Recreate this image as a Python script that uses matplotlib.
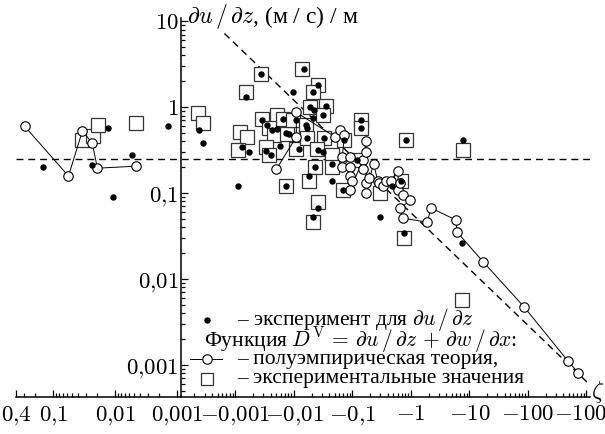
import numpy as np
import matplotlib.pyplot as plt
from matplotlib.ticker import FixedLocator, NullFormatter
from matplotlib.transforms import blended_transform_factory

plt.rcParams["font.family"] = ["Liberation Serif", "DejaVu Serif"]
plt.rcParams["mathtext.fontset"] = "cm"

# stable side, zeta > 0
pos_dot_z = [0.145, 0.024, 0.013, 0.011, 0.0053, 0.0014]
pos_dot_v = [0.20, 0.21, 0.58, 0.090, 0.28, 0.60]
pos_sq_z = [0.034, 0.023, 0.019, 0.0046]
pos_sq_v = [0.42, 0.46, 0.62, 0.65]
pos_theory_z = [0.29, 0.057, 0.034, 0.0235, 0.0195, 0.0046]
pos_theory_v = [0.60, 0.158, 0.53, 0.38, 0.195, 0.206]

# unstable side, zeta < 0: du/dz measurements
neg_dot_z = [-2.4e-4, -2.8e-4, -1.1e-3, -1.3e-3, -1.7e-3, -1.5e-3, -2.7e-3, -2.9e-3,
             -3.5e-3, -4.3e-3, -5.2e-3, -6.4e-3, -7.4e-3, -8.1e-3, -5.9e-3, -3.3e-3,
             -4.0e-3, -7.2e-3, -9.8e-3, -0.011, -0.012, -0.015, -0.026, -0.021,
             -0.035, -0.019, -0.016, -0.021, -0.022, -0.031, -0.017, -0.017, -0.033,
             -0.026, -0.031, -0.023, -0.045, -0.018, -0.044, -0.073, -0.14, -0.14,
             -0.81, -7.9, -0.12, -0.070, -0.69, -0.48, -0.026, -0.021, -0.30, -0.77, -7.6]
neg_dot_v = [0.54, 0.38, 0.12, 0.34, 0.30, 1.3, 2.4, 0.71, 0.62, 0.54, 0.55, 0.72, 0.50,
             0.49, 0.35, 0.31, 0.28, 0.12, 1.5, 0.71, 0.33, 2.8, 1.8, 1.5, 1.03, 1.0,
             0.62, 0.74, 0.92, 0.81, 0.58, 0.44, 0.44, 0.32, 0.30, 0.20, 0.22, 0.16,
             0.14, 0.41, 0.71, 0.57, 0.42, 0.42, 0.24, 0.11, 0.14, 0.12, 0.067, 0.053,
             0.053, 0.034, 0.026]

# D^V experimental values
neg_sq_z = [-2.3e-4, -2.8e-4, -1.2e-3, -1.6e-3, -1.1e-3, -1.5e-3, -2.7e-3, -2.9e-3,
            -5.2e-3, -6.4e-3, -3.7e-3, -4.5e-3, -7.7e-3, -9.8e-3, -3.3e-3, -3.7e-3,
            -7.2e-3, -0.011, -0.014, -0.026, -0.021, -0.035, -0.019, -0.016, -0.031,
            -0.017, -0.033, -0.025, -0.045, -0.023, -0.045, -0.018, -0.073, -0.14,
            -0.14, -0.81, -7.9, -0.12, -0.070, -0.69, -0.30, -0.026, -0.021, -0.77, -7.6]
neg_sq_v = [0.85, 0.65, 0.51, 0.45, 0.32, 1.5, 2.4, 0.72, 0.81, 0.72, 0.58, 0.47, 0.49,
            0.71, 0.34, 0.28, 0.12, 0.33, 2.8, 1.8, 1.5, 1.03, 1.0, 0.62, 0.81, 0.44,
            0.44, 0.33, 0.28, 0.20, 0.20, 0.14, 0.41, 0.71, 0.57, 0.42, 0.32, 0.24,
            0.11, 0.14, 0.10, 0.079, 0.046, 0.030, 0.0057]

# semi-empirical theory for D^V
neg_theory_z = [-5.0e-3, -0.011, -0.011, -0.051, -0.062, -0.073, -0.067, -0.067, -0.092,
                -0.092, -0.092, -0.10, -0.092, -0.15, -0.15, -0.17, -0.17, -0.17, -0.19,
                -0.17, -0.23, -0.27, -0.28, -0.34, -0.37, -0.45, -0.61, -0.59, -0.66,
                -0.74, -0.98, -0.66, -0.72, -1.9, -2.2, -5.8, -6.2, -17, -87, -490, -730]
neg_theory_v = [0.19, 0.45, 0.87, 0.45, 0.54, 0.47, 0.26, 0.20, 0.26, 0.20, 0.16, 0.14,
                0.11, 0.24, 0.19, 0.40, 0.30, 0.13, 0.15, 0.10, 0.22, 0.14, 0.13, 0.12,
                0.14, 0.14, 0.18, 0.11, 0.13, 0.095, 0.083, 0.067, 0.051, 0.046, 0.067,
                0.049, 0.035, 0.016, 0.0047, 0.0011, 8.1e-4]

# free-convection asymptote and neutral level
asym_z = [-6.5e-4, -1200]
asym_v = [7.2, 5.7e-4]
neutral_v = 0.25

pos_major = [0.4, 0.1, 0.01, 0.001]
pos_labels = [r"$0{,}4$", r"$0{,}1$", r"$0{,}01$", r"$0{,}001$"]
neg_major = [-0.001, -0.01, -0.1, -1, -10, -100, -1000]
neg_labels = [r"$-0{,}001$", r"$-0{,}01$", r"$-0{,}1$", r"$-1$", r"$-10$",
              r"$-100$", r"$-1000$"]
y_major = [10, 1, 0.1, 0.01, 0.001]
y_labels = [r"$10$", r"$1$", r"$0{,}1$", r"$0{,}01$", r"$0{,}001$"]

# composite zeta axis: log|zeta| on both sides, y-axis sits at u = 0
POS_DECADE = 1.06
POS_SHIFT = -0.068
NEG_SHIFT = 0.923


def zeta_axis(z):
    z = np.atleast_1d(np.asarray(z, dtype=float))
    u = np.empty_like(z)
    pos = z > 0
    u[pos] = POS_SHIFT - POS_DECADE * (np.log10(z[pos]) + 3)
    u[~pos] = NEG_SHIFT + np.log10(-z[~pos]) + 3
    return u


fig = plt.figure(figsize=(6.05, 4.34), dpi=100)
ax = fig.add_axes([16 / 605, 0.0843, 574 / 605, 0.875])
ax.set_yscale("log")
ax.set_ylim(4.2e-4, 11)
x_lo, x_hi = zeta_axis([0.4, -1150])
ax.set_xlim(x_lo, x_hi)

ax.axhline(neutral_v, color="black", lw=1.0, ls=(0, (5, 3.5)), zorder=1)
ax.plot(zeta_axis(asym_z), asym_v, color="black", lw=1.0, ls=(0, (5, 3.5)), zorder=1)

sq_style = dict(ls="none", marker="s", ms=10, mfc="white", mec="#333333", mew=0.9, zorder=2)
ax.plot(zeta_axis(pos_sq_z), pos_sq_v, **sq_style)
ax.plot(zeta_axis(neg_sq_z), neg_sq_v, **sq_style)

th_style = dict(color="black", lw=0.7, marker="o", ms=6.8, mfc="white", mec="black",
                mew=0.8, zorder=3)
ax.plot(zeta_axis(pos_theory_z), pos_theory_v, **th_style)
ax.plot(zeta_axis(neg_theory_z), neg_theory_v, **th_style)

dot_style = dict(ls="none", marker="o", ms=3.6, color="black", zorder=4)
ax.plot(zeta_axis(pos_dot_z), pos_dot_v, **dot_style)
ax.plot(zeta_axis(neg_dot_z), neg_dot_v, **dot_style)

# axes: only bottom line and the y-axis placed at zeta = 0
ax.spines["left"].set_position(("data", 0))
ax.spines["right"].set_visible(False)
ax.spines["top"].set_visible(False)
for side in ("left", "bottom"):
    ax.spines[side].set_linewidth(1.1)

minor_pos = [m * 10.0 ** k for k in (-3, -2, -1) for m in range(2, 10) if m * 10.0 ** k < 0.4]
minor_neg = [-m * 10.0 ** k for k in range(-4, 3) for m in range(2, 10)]
ax.xaxis.set_major_locator(FixedLocator(np.concatenate([zeta_axis(pos_major), zeta_axis(neg_major)])))
ax.set_xticklabels(pos_labels + neg_labels)
ax.xaxis.set_minor_locator(FixedLocator(np.concatenate([zeta_axis(minor_pos), zeta_axis(minor_neg)])))
ax.xaxis.set_minor_formatter(NullFormatter())

ax.yaxis.set_major_locator(FixedLocator(y_major))
ax.set_yticklabels(y_labels)
ax.yaxis.set_minor_locator(FixedLocator([m * 10.0 ** k for k in range(-4, 1) for m in range(2, 10)]))
ax.yaxis.set_minor_formatter(NullFormatter())

ax.tick_params(which="both", direction="in", width=0.9, labelsize=16.5, top=False, right=False)
ax.tick_params(which="major", length=5)
ax.tick_params(which="minor", length=2.8)
ax.tick_params(axis="x", pad=5)
ax.tick_params(axis="y", pad=2)

ax.annotate(r"$\partial u\,/\,\partial z$, (м / с) / м", xy=(0, 1),
            xycoords=blended_transform_factory(ax.transData, ax.transAxes),
            xytext=(4, 1), textcoords="offset points", ha="left", va="center", fontsize=17)
ax.annotate(r"$\zeta$", xy=(1, 0), xycoords="axes fraction", xytext=(1, 4),
            textcoords="offset points", ha="left", va="center", fontsize=17)

# key block
kx, tx = 0.333, 0.385
rows = [0.204, 0.152, 0.101, 0.049]
lg = dict(transform=ax.transAxes, fontsize=15.5, va="center", ha="left")
ax.plot([kx], [rows[0]], transform=ax.transAxes, **dot_style)
ax.text(tx, rows[0], r"– эксперимент для $\partial u\,/\,\partial z$", **lg)
ax.text(kx - 0.005, rows[1],
        r"Функция $D^{\mathrm{V}}\,=\,\partial u\,/\,\partial z\,+\,\partial w\,/\,\partial x$:", **lg)
ax.plot([kx - 0.03, kx + 0.026], [rows[2], rows[2]], transform=ax.transAxes,
        color="black", lw=0.7, zorder=3)
ax.plot([kx], [rows[2]], transform=ax.transAxes, **dict(th_style, lw=0))
ax.text(tx, rows[2], "– полуэмпирическая теория,", **lg)
ax.plot([kx], [rows[3]], transform=ax.transAxes, **dict(sq_style, ms=8))
ax.text(tx, rows[3], "– экспериментальные значения", **lg)

fig.savefig("out.png", dpi=100)
